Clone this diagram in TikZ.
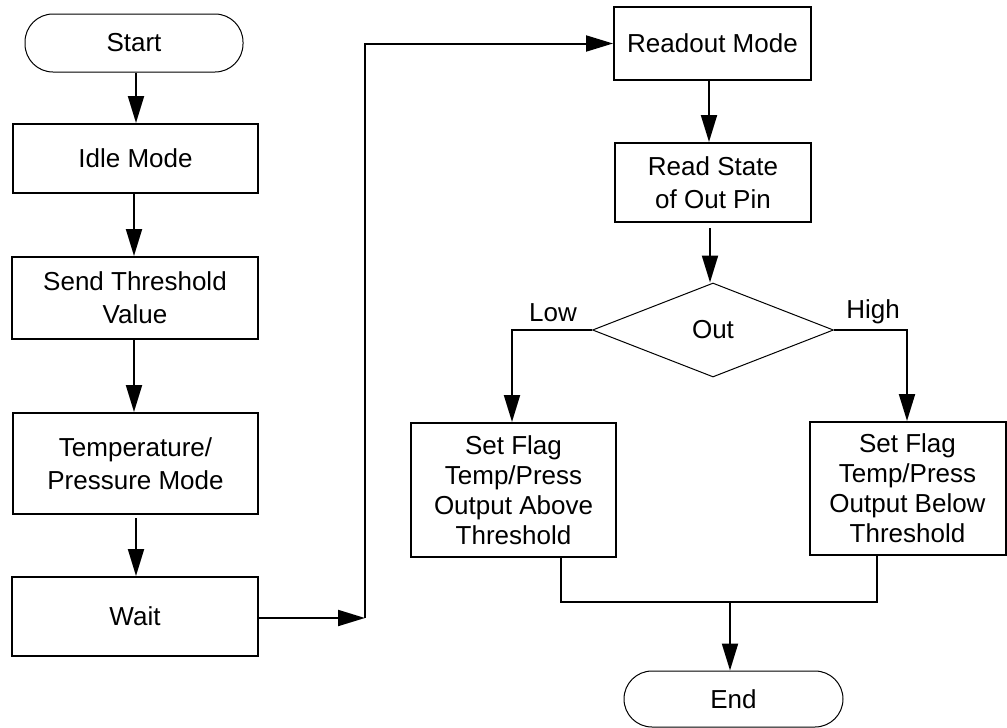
\documentclass[tikz,border=0pt]{standalone}
\usepackage{fontspec}
\setmainfont{Liberation Sans}
\usetikzlibrary{arrows.meta,shapes.geometric}

\tikzset{
  base/.style={inner sep=0pt, align=center, font=\fontsize{26}{33}\selectfont},
  procbox/.style={base, draw, line width=2pt, rectangle},
  terminal/.style={base, draw, line width=1pt, rectangle, rounded corners=28pt},
  decision/.style={base, draw, line width=1pt, diamond, aspect=2.56},
  flagbox/.style={procbox, font=\fontsize{26}{30}\selectfont},
  conn/.style={line width=2pt},
  arr/.style={conn, -{Triangle[length=27pt,width=16pt]}},
  branchlabel/.style={base}
}

\begin{document}
\begin{tikzpicture}[x=1pt, y=-1pt]
  \useasboundingbox (0,0) rectangle (1007,728);

  % left column
  \node[terminal, minimum width=218pt, minimum height=58pt] (start) at (134,43) {Start};
  \node[procbox, minimum width=245pt, minimum height=69pt] (idle) at (135.5,158.5) {Idle Mode};
  \node[procbox, minimum width=246pt, minimum height=82pt] (send) at (135,298) {Send Threshold\\Value};
  \node[procbox, minimum width=245pt, minimum height=101pt] (temp) at (135.5,463.5) {Temperature/\\Pressure Mode};
  \node[procbox, minimum width=246pt, minimum height=79pt] (wait) at (135,616.5) {Wait};

  % right column
  \node[procbox, minimum width=197pt, minimum height=73pt] (readout) at (712.5,43.5) {Readout Mode};
  \node[procbox, minimum width=196pt, minimum height=79pt] (readst) at (713,182.5) {Read State\\of Out Pin};
  \node[decision, minimum width=241pt, minimum height=94pt] (out) at (713,330) {Out};
  \node[flagbox, minimum width=205pt, minimum height=134pt] (above) at (513.5,490) {Set Flag\\Temp/Press\\Output Above\\Threshold};
  \node[flagbox, minimum width=196pt, minimum height=133pt] (below) at (907.5,488.5) {Set Flag\\Temp/Press\\Output Below\\Threshold};
  \node[terminal, minimum width=219pt, minimum height=56pt] (end) at (733.5,699) {End};

  % branch labels
  \node[branchlabel] (low) at (553,313) {Low};
  \node[branchlabel] (high) at (873,312) {High};

  % connectors
  \coordinate (turn) at (365,618);
  \coordinate (merge) at (730,602);

  \draw[arr] (start.south -| 136,0) -- (idle.north -| 136,0);
  \draw[arr] (idle.south -| 134,0) -- (send.north -| 134,0);
  \draw[arr] (send.south -| 134,0) -- (temp.north -| 134,0);
  \draw[arr, shorten <=3pt] (temp.south -| 136,0) -- (wait.north -| 136,0);
  \draw[arr] (wait.east |- turn) -- (turn);
  \draw[arr] (turn) |- (readout.west);
  \draw[arr] (readout.south -| 709,0) -- (readst.north -| 709,0);
  \draw[arr, shorten <=5pt] (readst.south -| 710,0) -- (out.north -| 710,0);
  \draw[arr] (out.west) -| (above.north -| 512,0);
  \draw[arr] (out.east) -| (below.north -| 907,0);
  \draw[conn] (above.south -| 561,0) |- (merge) -| (below.south -| 877,0);
  \draw[arr] (merge) -- (merge |- end.north);
\end{tikzpicture}
\end{document}
